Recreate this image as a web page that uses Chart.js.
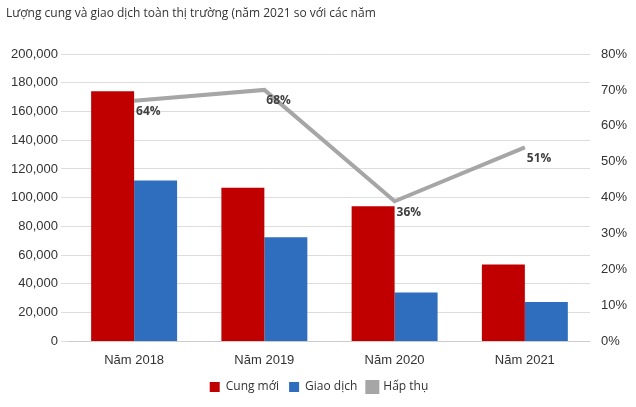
<!DOCTYPE html>
<html><head><meta charset="utf-8">
<script src="https://cdn.jsdelivr.net/npm/chart.js@4/dist/chart.umd.min.js"></script>
<style>body{margin:0;background:#fff}#w{width:636px;height:407px;position:relative}
#t{position:absolute;left:6px;top:4px;font:12px "Open Sans",sans-serif;color:#333}</style>
</head><body><div id="w"><div id="t">Lượng cung và giao dịch toàn thị trường (năm 2021 so với các năm</div>
<canvas id="c" width="636" height="407"></canvas></div>
<script>
const categories=["Năm 2018","Năm 2019","Năm 2020","Năm 2021"];
const cungMoi=[174000,107000,94000,53500];
const giaoDich=[112000,72500,34000,27500];
const hapThu=[67,70,39,54];
const hapThuLabels=["64%","68%","36%","51%"];
const lbl={id:'lbl',afterDatasetsDraw(ch){const m=ch.getDatasetMeta(0),x=ch.ctx;x.save();x.font='bold 12px "Open Sans",sans-serif';x.fillStyle='#404040';x.textBaseline='middle';
m.data.forEach((p,i)=>x.fillText(hapThuLabels[i],p.x+2,p.y+11));x.restore();}};
new Chart(document.getElementById('c'),{data:{labels:categories,datasets:[
{type:'line',label:'Hấp thụ',data:hapThu,yAxisID:'y1',borderColor:'#A6A6A6',backgroundColor:'#A6A6A6',borderWidth:4,pointRadius:0,order:0},
{type:'bar',label:'Cung mới',data:cungMoi,backgroundColor:'#C00000',barPercentage:1,categoryPercentage:0.66,order:1},
{type:'bar',label:'Giao dịch',data:giaoDich,backgroundColor:'#2F6EBF',barPercentage:1,categoryPercentage:0.66,order:1}
]},
options:{responsive:false,animation:false,layout:{padding:{top:54,left:8,right:6,bottom:4}},
plugins:{legend:{position:'bottom',labels:{boxWidth:10,boxHeight:10,font:{size:12,family:'"Open Sans",sans-serif'},color:'#333',
sort:(a,b)=>[1,2,0].indexOf(a.datasetIndex)-[1,2,0].indexOf(b.datasetIndex)}},tooltip:{enabled:false}},
scales:{x:{grid:{display:false},border:{color:'#ccc'},ticks:{color:'#333',font:{size:13}}},
y:{min:0,max:200000,ticks:{stepSize:20000,color:'#333',font:{size:13},callback:v=>v.toLocaleString('en-US')},grid:{color:'#ddd'},border:{display:false}},
y1:{position:'right',min:0,max:80,ticks:{stepSize:10,color:'#333',font:{size:13},callback:v=>v+'%'},grid:{display:false},border:{display:false}}}},
plugins:[lbl]});
</script></body></html>
